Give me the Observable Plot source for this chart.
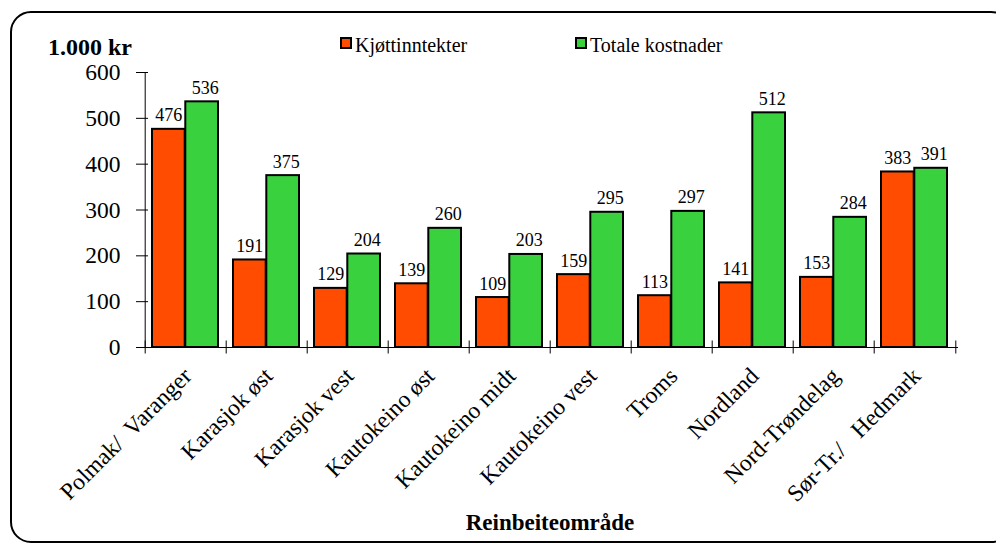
<!DOCTYPE html>
<html>
<head>
<meta charset="utf-8">
<script src="https://cdn.jsdelivr.net/npm/d3@7"></script>
<script src="https://cdn.jsdelivr.net/npm/@observablehq/plot@0.6"></script>
<style>
  html, body { margin: 0; padding: 0; background: #fff; overflow: hidden; width: 996px; height: 546px; }
  #wrap { position: relative; width: 996px; height: 546px; overflow: hidden; background: #fff; }
  #wrap svg { position: absolute; left: 0; top: 0; }
  #wrap svg text { white-space: pre; }
</style>
</head>
<body>
<div id="wrap"></div>
<script>
const categories = ["Polmak/  Varanger", "Karasjok øst", "Karasjok vest", "Kautokeino øst", "Kautokeino midt",
                    "Kautokeino vest", "Troms", "Nordland", "Nord-Trøndelag", "Sør-Tr./   Hedmark"];
const kjottinntekter = [476, 191, 129, 139, 109, 159, 113, 141, 153, 383];
const totaleKostnader = [536, 375, 204, 260, 203, 295, 297, 512, 284, 391];
const yTicks = [0, 100, 200, 300, 400, 500, 600];
const seriesNames = ["Kjøttinntekter", "Totale kostnader"];
const yTitle = "1.000 kr";
const xTitle = "Reinbeiteområde";

const RED = "#ff4c00", GREEN = "#3ad13f";
const W = 996, H = 546, ML = 142, MR = 38, MT = 72, MB = 199;
const bw = (W - ML - MR) / categories.length;
const barW = 33.3, padL = 7;

const rows = categories.map((c, i) => ({cat: c, k: kjottinntekter[i], t: totaleKostnader[i]}));
const font = "Liberation Serif";

const chart = Plot.plot({
  width: W, height: H,
  marginTop: MT, marginBottom: MB, marginLeft: ML, marginRight: MR,
  style: {fontFamily: font, background: "transparent", color: "black", overflow: "hidden"},
  x: {domain: categories, padding: 0, axis: null, label: null},
  y: {domain: [0, 600], axis: null, label: null},
  marks: [
    Plot.barY(rows, {x: "cat", y: "k", fill: RED, stroke: "black", strokeWidth: 2,
      insetLeft: padL, insetRight: bw - padL - barW}),
    Plot.barY(rows, {x: "cat", y: "t", fill: GREEN, stroke: "black", strokeWidth: 2,
      insetLeft: padL + barW, insetRight: bw - padL - 2 * barW}),
    Plot.ruleY([0], {stroke: "black", strokeWidth: 1}),
    Plot.ruleX([categories[0]], {x: d => d, y1: 0, y2: 600, dx: -bw / 2, stroke: "black", strokeWidth: 1}),
    Plot.axisY(yTicks, {anchor: "left", tickSize: 12, dx: 6, tickFormat: () => "", label: null, stroke: "black"}),
    Plot.axisY(yTicks, {anchor: "left", tickSize: 0, tickPadding: 22, label: null, fontSize: 23.5, fill: "black"}),
    Plot.axisX(categories, {anchor: "bottom", tickSize: 13, dx: -bw / 2, dy: -6.5, tickFormat: () => "", label: null, stroke: "black"}),
    Plot.axisX([categories[categories.length - 1]], {anchor: "bottom", tickSize: 13, dx: bw / 2, dy: -6.5, tickFormat: () => "", label: null, stroke: "black"}),
    Plot.text(rows, {x: "cat", y: () => 0, text: "cat", rotate: -45, textAnchor: "end", lineAnchor: "bottom",
      dx: 7, dy: 30, fontSize: 23.5, fill: "black"}),
    Plot.text(rows, {x: "cat", y: "k", text: d => String(d.k), dx: -(bw / 2 - padL - barW / 2), dy: -8,
      lineAnchor: "bottom", fontSize: 18, fill: "black"}),
    Plot.text(rows, {x: "cat", y: "t", text: d => String(d.t), dx: padL + barW * 1.5 - bw / 2 + 3, dy: -8,
      lineAnchor: "bottom", fontSize: 18, fill: "black"})
  ]
});

const wrap = document.getElementById("wrap");
wrap.appendChild(chart);

const svg = d3.select(chart);
// rounded outer border of the chart area (extends past the right edge, as in the original)
svg.insert("rect", ":first-child").attr("x", 11).attr("y", 12).attr("width", 1000).attr("height", 530)
  .attr("rx", 20).attr("ry", 20).attr("fill", "none").attr("stroke", "black").attr("stroke-width", 2);
const g = svg.append("g").attr("font-family", font).attr("fill", "black").attr("text-anchor", "start");
g.append("text").attr("x", 48).attr("y", 55).attr("text-anchor", "start").attr("font-size", 24)
  .attr("font-weight", "bold").text(yTitle);
g.append("text").attr("x", (ML + W - MR) / 2).attr("y", 530).attr("text-anchor", "middle")
  .attr("font-size", 23).attr("font-weight", "bold").text(xTitle);
const legendX = [341, 576];
const legendColors = [RED, GREEN];
seriesNames.forEach((name, i) => {
  g.append("rect").attr("x", legendX[i]).attr("y", 38).attr("width", 10).attr("height", 10)
    .attr("fill", legendColors[i]).attr("stroke", "black").attr("stroke-width", 2);
  g.append("text").attr("x", legendX[i] + 14).attr("y", 52).attr("text-anchor", "start")
    .attr("font-size", 20).text(name);
});
</script>
</body>
</html>
